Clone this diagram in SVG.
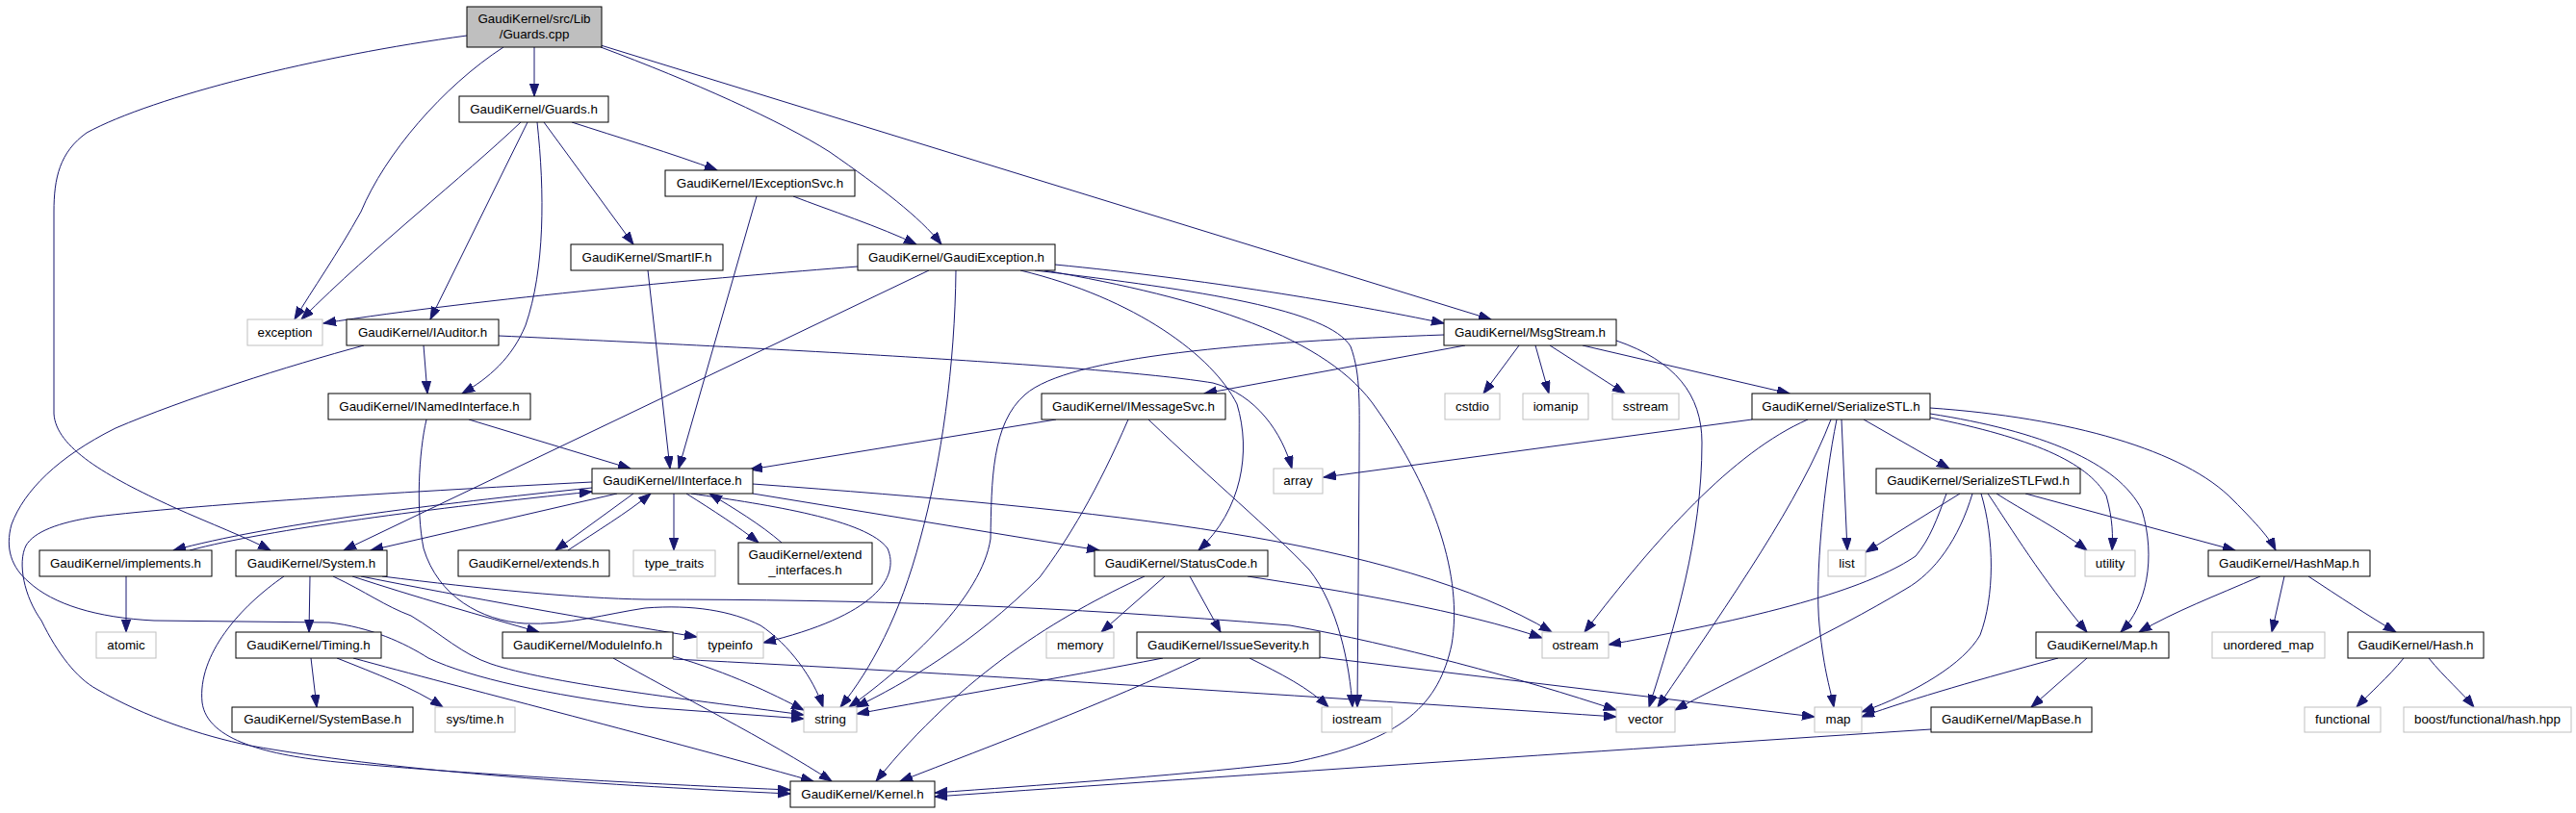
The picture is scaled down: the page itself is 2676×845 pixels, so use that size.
<svg xmlns="http://www.w3.org/2000/svg" width="2676" height="845" viewBox="0 0 2676 845">
<style>
.node rect{fill:#ffffff;stroke:#000000;stroke-width:1}
.ext rect{stroke:#bfbfbf}
.root rect{fill:#bfbfbf}
text{font-family:"Liberation Sans",Arial,Helvetica,sans-serif;font-size:13.33px;text-anchor:middle;fill:#000}
#edges path{fill:none;stroke:#191970;stroke-width:1;marker-end:url(#arr)}
</style>
<defs>
<marker id="arr" markerUnits="userSpaceOnUse" markerWidth="14" markerHeight="10" refX="13" refY="4.65" orient="auto">
<path d="M0,0 L13,4.65 L0,9.3 z" fill="#191970" stroke="#191970" stroke-width="1"/>
</marker>
</defs>
<rect x="0" y="0" width="2676" height="845" fill="#ffffff"/>
<g id="edges">
<path d="M555,49 L555,100"/>
<path d="M523,49 C 460,90 400,160 375,220 C 350,265 325,300 306,332"/>
<path d="M485,37 C 330,58 160,100 90,138 C 62,158 56,185 56,220 L56,430 C 58,465 110,495 180,527 C 220,545 255,558 281,572"/>
<path d="M624,49 C 720,85 810,125 862,158 C 915,195 955,225 978,254"/>
<path d="M624,47 L1549,332"/>
<path d="M541,127 C 480,185 390,255 313,332"/>
<path d="M548,127 L447,332"/>
<path d="M558,127 C 566,200 566,280 546,338 C 532,372 508,393 480,409"/>
<path d="M565,127 L658,254"/>
<path d="M594,127 C 640,142 700,160 745,177"/>
<path d="M824,204 C 860,218 915,236 952,254"/>
<path d="M786,204 L705,487"/>
<path d="M673,281 L696,487"/>
<path d="M891,277 C 750,288 500,310 336,336"/>
<path d="M965,281 L357,572"/>
<path d="M993,281 C 992,380 978,480 956,560 C 935,640 905,695 873,735"/>
<path d="M1096,275 C 1250,290 1400,315 1500,336"/>
<path d="M1075,281 C 1250,302 1380,322 1403,360 C 1414,390 1412,420 1412,480 L1410,735"/>
<path d="M1085,281 C 1250,310 1380,350 1430,425 C 1490,510 1520,600 1508,670 C 1495,730 1460,770 1340,793 C 1200,808 1080,816 971,824"/>
<path d="M1060,281 C 1180,310 1260,370 1285,420 C 1300,470 1290,530 1245,572"/>
<path d="M1500,348 C 1300,355 1110,370 1065,410 C 1030,440 1030,500 1029,560 C 1020,620 945,690 882,735"/>
<path d="M1522,359 L1251,409"/>
<path d="M1578,359 L1541,409"/>
<path d="M1595,359 L1609,409"/>
<path d="M1610,359 L1688,409"/>
<path d="M1644,359 L1859,409"/>
<path d="M1679,354 C 1740,375 1768,410 1768,460 C 1768,560 1740,650 1713,735"/>
<path d="M440,359 L444,409"/>
<path d="M518,349 C 800,362 1150,380 1260,398 C 1305,410 1332,450 1342,487"/>
<path d="M378,359 C 300,380 190,415 120,445 C 60,475 25,510 12,545 C 5,570 12,590 30,605 C 55,628 100,642 160,645 L342,647 C 385,652 420,668 445,684 C 490,705 570,722 670,735 L835,747"/>
<path d="M487,436 L655,487"/>
<path d="M443,436 C 435,470 432,530 440,570 C 455,620 500,645 545,648 C 590,650 630,638 670,632 C 720,628 760,635 790,650 C 820,670 845,705 855,735"/>
<path d="M1097,436 L779,488"/>
<path d="M1172,436 C 1140,510 1110,560 1080,600 C 1010,670 940,710 889,735"/>
<path d="M1193,436 C 1260,500 1320,550 1360,592 C 1390,630 1402,690 1405,735"/>
<path d="M1820,436 L1375,496"/>
<path d="M1878,436 C 1800,470 1720,560 1646,657"/>
<path d="M1902,436 C 1870,520 1800,620 1722,735"/>
<path d="M1908,436 C 1895,500 1885,600 1890,650 C 1895,700 1902,718 1905,735"/>
<path d="M1913,436 L1919,572"/>
<path d="M1936,436 L2025,487"/>
<path d="M2005,424 C 2150,434 2270,468 2320,520 C 2345,545 2358,560 2364,572"/>
<path d="M2005,430 C 2120,448 2200,480 2225,530 C 2240,580 2230,630 2203,657"/>
<path d="M2005,434 C 2110,455 2168,480 2188,515 C 2195,540 2195,558 2194,572"/>
<path d="M2036,513 L1938,574"/>
<path d="M2022,513 C 2012,540 2005,560 1990,578 C 1950,605 1870,635 1671,670"/>
<path d="M2049,513 C 2035,560 2010,595 1980,612 C 1900,660 1800,705 1740,738"/>
<path d="M2058,513 C 2072,560 2072,620 2057,660 C 2040,690 1990,720 1934,740"/>
<path d="M2065,513 C 2090,550 2120,600 2168,657"/>
<path d="M2074,513 C 2100,530 2140,550 2168,572"/>
<path d="M2104,513 L2322,572"/>
<path d="M615,501 C 400,512 200,525 100,537 C 60,543 35,553 27,567 C 18,585 25,620 43,645 C 60,680 80,705 100,716 C 150,745 210,765 260,775 C 400,800 600,815 821,825"/>
<path d="M615,507 C 450,524 280,545 180,572"/>
<path d="M641,513 L385,572"/>
<path d="M658,513 L577,572"/>
<path d="M700,513 L700,572"/>
<path d="M713,513 C 740,530 768,548 788,564"/>
<path d="M782,513 L1142,572"/>
<path d="M782,503 C 1150,530 1450,560 1612,657"/>
<path d="M718,513 C 800,525 900,540 922,570 C 935,600 910,640 793,668"/>
<path d="M197,572 C 280,550 450,528 615,511"/>
<path d="M590,572 C 620,552 650,534 676,513"/>
<path d="M812,564 C 790,545 762,528 737,513"/>
<path d="M131,599 L131,657"/>
<path d="M295,599 C 250,630 205,680 210,730 C 215,770 280,785 350,792 C 500,806 700,816 821,821"/>
<path d="M322,599 L321,657"/>
<path d="M366,599 C 430,620 500,640 560,657"/>
<path d="M346,599 C 380,615 400,630 427,640 C 460,660 480,680 510,690 C 570,710 700,725 835,743"/>
<path d="M375,599 C 480,620 620,645 724,662"/>
<path d="M397,599 C 500,612 600,622 670,623 C 900,623 1100,630 1340,650 C 1450,670 1580,705 1679,738"/>
<path d="M323,684 L329,735"/>
<path d="M350,684 C 390,700 430,715 460,735"/>
<path d="M367,684 C 480,715 660,760 845,812"/>
<path d="M637,684 C 700,720 800,770 864,812"/>
<path d="M699,682 C 760,700 800,720 835,738"/>
<path d="M699,685 C 1000,700 1300,720 1679,745"/>
<path d="M1189,599 C 1100,640 1000,700 910,812"/>
<path d="M1210,599 L1144,657"/>
<path d="M1236,599 L1268,657"/>
<path d="M1296,599 C 1400,615 1520,635 1602,663"/>
<path d="M1208,684 C 1100,705 980,725 890,742"/>
<path d="M1247,684 C 1150,730 1030,775 935,812"/>
<path d="M1298,684 C 1330,700 1360,715 1380,735"/>
<path d="M1371,683 L1885,745"/>
<path d="M2348,599 C 2300,620 2260,635 2222,657"/>
<path d="M2373,599 L2360,657"/>
<path d="M2398,599 C 2430,620 2460,640 2489,657"/>
<path d="M2138,684 C 2060,705 1990,725 1934,745"/>
<path d="M2168,684 L2110,735"/>
<path d="M2006,758 C 1700,778 1300,805 971,828"/>
<path d="M2497,684 C 2480,705 2462,720 2448,735"/>
<path d="M2523,684 C 2540,705 2558,720 2570,735"/>
</g>
<g id="n_guards_cpp" class="node root"><rect x="485" y="7" width="140" height="42"/><text x="555" y="24">GaudiKernel/src/Lib</text><text x="555" y="40">/Guards.cpp</text></g>
<g id="n_guards_h" class="node"><rect x="477" y="100" width="155" height="27"/><text x="554.5" y="118">GaudiKernel/Guards.h</text></g>
<g id="n_iexceptionsvc" class="node"><rect x="691" y="177" width="197" height="27"/><text x="789.5" y="195">GaudiKernel/IExceptionSvc.h</text></g>
<g id="n_smartif" class="node"><rect x="593" y="254" width="158" height="27"/><text x="672" y="272">GaudiKernel/SmartIF.h</text></g>
<g id="n_gaudiexception" class="node"><rect x="891" y="254" width="205" height="27"/><text x="993.5" y="272">GaudiKernel/GaudiException.h</text></g>
<g id="n_exception" class="node ext"><rect x="257" y="332" width="78" height="27"/><text x="296" y="350">exception</text></g>
<g id="n_iauditor" class="node"><rect x="360" y="332" width="158" height="27"/><text x="439" y="350">GaudiKernel/IAuditor.h</text></g>
<g id="n_msgstream" class="node"><rect x="1500" y="332" width="179" height="27"/><text x="1589.5" y="350">GaudiKernel/MsgStream.h</text></g>
<g id="n_inamedinterface" class="node"><rect x="341" y="409" width="210" height="27"/><text x="446" y="427">GaudiKernel/INamedInterface.h</text></g>
<g id="n_imessagesvc" class="node"><rect x="1082" y="409" width="191" height="27"/><text x="1177.5" y="427">GaudiKernel/IMessageSvc.h</text></g>
<g id="n_cstdio" class="node ext"><rect x="1501" y="409" width="57" height="27"/><text x="1529.5" y="427">cstdio</text></g>
<g id="n_iomanip" class="node ext"><rect x="1582" y="409" width="68" height="27"/><text x="1616" y="427">iomanip</text></g>
<g id="n_sstream" class="node ext"><rect x="1675" y="409" width="69" height="27"/><text x="1709.5" y="427">sstream</text></g>
<g id="n_serializestl" class="node"><rect x="1820" y="409" width="185" height="27"/><text x="1912.5" y="427">GaudiKernel/SerializeSTL.h</text></g>
<g id="n_iinterface" class="node"><rect x="615" y="487" width="167" height="26"/><text x="698.5" y="504">GaudiKernel/IInterface.h</text></g>
<g id="n_array" class="node ext"><rect x="1323" y="487" width="51" height="26"/><text x="1348.5" y="504">array</text></g>
<g id="n_serializestlfwd" class="node"><rect x="1949" y="487" width="212" height="26"/><text x="2055" y="504">GaudiKernel/SerializeSTLFwd.h</text></g>
<g id="n_implements" class="node"><rect x="41" y="572" width="179" height="27"/><text x="130.5" y="590">GaudiKernel/implements.h</text></g>
<g id="n_system" class="node"><rect x="245" y="572" width="157" height="27"/><text x="323.5" y="590">GaudiKernel/System.h</text></g>
<g id="n_extends" class="node"><rect x="476" y="572" width="157" height="27"/><text x="554.5" y="590">GaudiKernel/extends.h</text></g>
<g id="n_type_traits" class="node ext"><rect x="658" y="572" width="85" height="27"/><text x="700.5" y="590">type_traits</text></g>
<g id="n_extend_interfaces" class="node"><rect x="767" y="564" width="139" height="43"/><text x="836.5" y="581">GaudiKernel/extend</text><text x="836.5" y="597">_interfaces.h</text></g>
<g id="n_statuscode" class="node"><rect x="1137" y="572" width="180" height="27"/><text x="1227" y="590">GaudiKernel/StatusCode.h</text></g>
<g id="n_list" class="node ext"><rect x="1899" y="572" width="39" height="27"/><text x="1918.5" y="590">list</text></g>
<g id="n_utility" class="node ext"><rect x="2166" y="572" width="52" height="27"/><text x="2192" y="590">utility</text></g>
<g id="n_hashmap" class="node"><rect x="2294" y="572" width="168" height="27"/><text x="2378" y="590">GaudiKernel/HashMap.h</text></g>
<g id="n_atomic" class="node ext"><rect x="100" y="657" width="62" height="27"/><text x="131" y="675">atomic</text></g>
<g id="n_timing" class="node"><rect x="245" y="657" width="151" height="27"/><text x="320.5" y="675">GaudiKernel/Timing.h</text></g>
<g id="n_moduleinfo" class="node"><rect x="522" y="657" width="177" height="27"/><text x="610.5" y="675">GaudiKernel/ModuleInfo.h</text></g>
<g id="n_typeinfo" class="node ext"><rect x="724" y="657" width="69" height="27"/><text x="758.5" y="675">typeinfo</text></g>
<g id="n_memory" class="node ext"><rect x="1087" y="657" width="70" height="27"/><text x="1122" y="675">memory</text></g>
<g id="n_issueseverity" class="node"><rect x="1181" y="657" width="190" height="27"/><text x="1276" y="675">GaudiKernel/IssueSeverity.h</text></g>
<g id="n_ostream" class="node ext"><rect x="1602" y="657" width="69" height="27"/><text x="1636.5" y="675">ostream</text></g>
<g id="n_map_h" class="node"><rect x="2115" y="657" width="138" height="27"/><text x="2184" y="675">GaudiKernel/Map.h</text></g>
<g id="n_unordered_map" class="node ext"><rect x="2298" y="657" width="117" height="27"/><text x="2356.5" y="675">unordered_map</text></g>
<g id="n_hash" class="node"><rect x="2439" y="657" width="141" height="27"/><text x="2509.5" y="675">GaudiKernel/Hash.h</text></g>
<g id="n_systembase" class="node"><rect x="241" y="735" width="188" height="26"/><text x="335" y="752">GaudiKernel/SystemBase.h</text></g>
<g id="n_systime" class="node ext"><rect x="452" y="735" width="83" height="26"/><text x="493.5" y="752">sys/time.h</text></g>
<g id="n_string" class="node ext"><rect x="835" y="735" width="55" height="26"/><text x="862.5" y="752">string</text></g>
<g id="n_iostream" class="node ext"><rect x="1373" y="735" width="73" height="26"/><text x="1409.5" y="752">iostream</text></g>
<g id="n_vector" class="node ext"><rect x="1679" y="735" width="61" height="26"/><text x="1709.5" y="752">vector</text></g>
<g id="n_map" class="node ext"><rect x="1885" y="735" width="49" height="26"/><text x="1909.5" y="752">map</text></g>
<g id="n_mapbase" class="node"><rect x="2006" y="735" width="167" height="26"/><text x="2089.5" y="752">GaudiKernel/MapBase.h</text></g>
<g id="n_functional" class="node ext"><rect x="2394" y="735" width="79" height="26"/><text x="2433.5" y="752">functional</text></g>
<g id="n_boost_hash" class="node ext"><rect x="2497" y="735" width="174" height="26"/><text x="2584" y="752">boost/functional/hash.hpp</text></g>
<g id="n_kernel" class="node"><rect x="821" y="812" width="150" height="27"/><text x="896" y="830">GaudiKernel/Kernel.h</text></g>
</svg>
